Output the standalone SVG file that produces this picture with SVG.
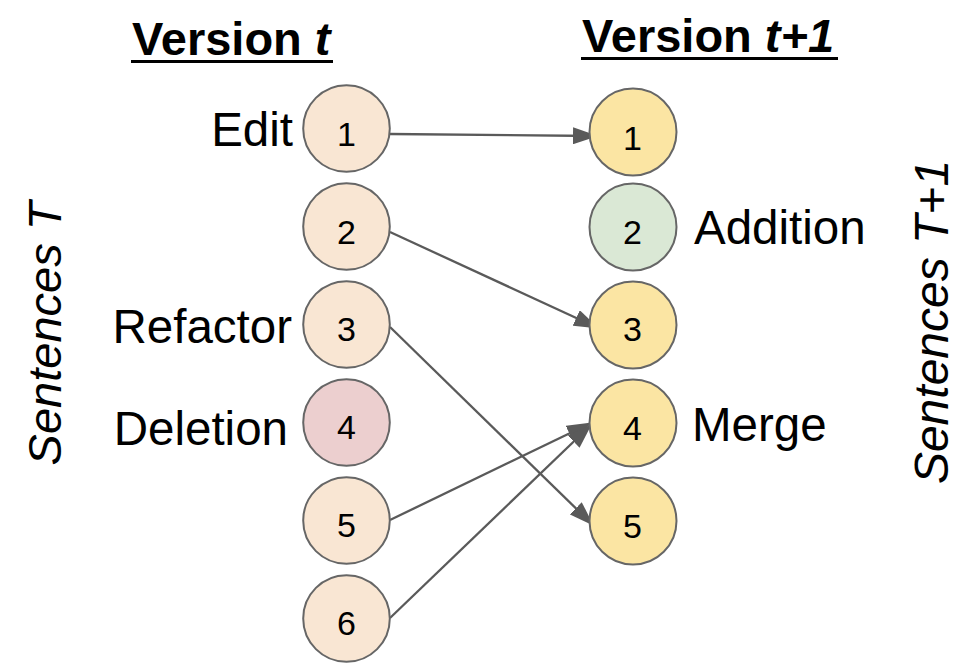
<svg xmlns="http://www.w3.org/2000/svg" width="968" height="672" viewBox="0 0 968 672">
  <style>
    text { font-family: "Liberation Sans", Arial, sans-serif; fill: #000; }
    .title { font-size: 47px; font-weight: bold; }
    .lbl { font-size: 47.5px; }
    .num { font-size: 34px; text-anchor: middle; }
    .side { font-style: italic; text-anchor: middle; }
    .node circle { stroke: #666666; stroke-width: 2; }
    .old { fill: #f9e6d3; }
    .del { fill: #eccfcf; }
    .new { fill: #fbe5a3; }
    .add { fill: #dae8d5; }
    .conn line { stroke: #5a5a5a; stroke-width: 2.3; marker-end: url(#arrow); }
  </style>
  <defs>
    <marker id="arrow" markerUnits="userSpaceOnUse" markerWidth="25" markerHeight="17" refX="24" refY="8.5" orient="auto" viewBox="0 0 25 17">
      <path d="M0,0 L25,8.5 L0,17 z" fill="#5a5a5a"/>
    </marker>
  </defs>
  <rect width="968" height="672" fill="#ffffff"/>

  <g id="title-t">
    <text class="title" x="132" y="55">Version <tspan font-style="italic">t</tspan></text>
    <line x1="131" y1="61.5" x2="333" y2="61.5" stroke="#000" stroke-width="3"/>
  </g>
  <g id="title-t1">
    <text class="title" x="582" y="52">Version <tspan font-style="italic">t+1</tspan></text>
    <line x1="581" y1="58.5" x2="838" y2="58.5" stroke="#000" stroke-width="3"/>
  </g>

  <text id="side-left" class="side" font-size="47" transform="translate(61,333.5) rotate(-90)">Sentences T</text>
  <text id="side-right" class="side" font-size="48" transform="translate(948,322) rotate(-90)">Sentences T+1</text>

  <g id="labels">
    <text class="lbl" x="293" y="146" text-anchor="end">Edit</text>
    <text class="lbl" x="292" y="343" text-anchor="end">Refactor</text>
    <text class="lbl" x="288" y="445" text-anchor="end">Deletion</text>
    <text class="lbl" x="694" y="244">Addition</text>
    <text class="lbl" x="692" y="441">Merge</text>
  </g>

  <g id="connectors" class="conn">
    <line x1="390" y1="134" x2="597" y2="136"/>
    <line x1="390" y1="232" x2="598" y2="328"/>
    <line x1="390" y1="327" x2="593" y2="525"/>
    <line x1="390" y1="520" x2="591" y2="423"/>
    <line x1="390" y1="618" x2="591" y2="425"/>
  </g>

  <g id="old-1" class="node"><circle class="old" cx="346.5" cy="128.5" r="43.3"/><text class="num" x="346.5" y="146">1</text></g>
  <g id="old-2" class="node"><circle class="old" cx="346.5" cy="226.5" r="43.3"/><text class="num" x="346.5" y="243.5">2</text></g>
  <g id="old-3" class="node"><circle class="old" cx="346.5" cy="324.5" r="43.3"/><text class="num" x="346.5" y="340.5">3</text></g>
  <g id="old-4" class="node"><circle class="del" cx="346.5" cy="422.5" r="43.3"/><text class="num" x="346.5" y="438.5">4</text></g>
  <g id="old-5" class="node"><circle class="old" cx="346.5" cy="520.5" r="43.3"/><text class="num" x="346.5" y="536.5">5</text></g>
  <g id="old-6" class="node"><circle class="old" cx="346.5" cy="618.5" r="43.3"/><text class="num" x="346.5" y="634.5">6</text></g>

  <g id="new-1" class="node"><circle class="new" cx="633" cy="132" r="43.5"/><text class="num" x="632.5" y="149.5">1</text></g>
  <g id="new-2" class="node"><circle class="add" cx="633" cy="227" r="43.5"/><text class="num" x="632.5" y="243.5">2</text></g>
  <g id="new-3" class="node"><circle class="new" cx="633" cy="325" r="43.5"/><text class="num" x="632.5" y="341">3</text></g>
  <g id="new-4" class="node"><circle class="new" cx="633" cy="423" r="43.5"/><text class="num" x="632.5" y="440">4</text></g>
  <g id="new-5" class="node"><circle class="new" cx="633" cy="521" r="43.5"/><text class="num" x="632.5" y="538">5</text></g>
</svg>
